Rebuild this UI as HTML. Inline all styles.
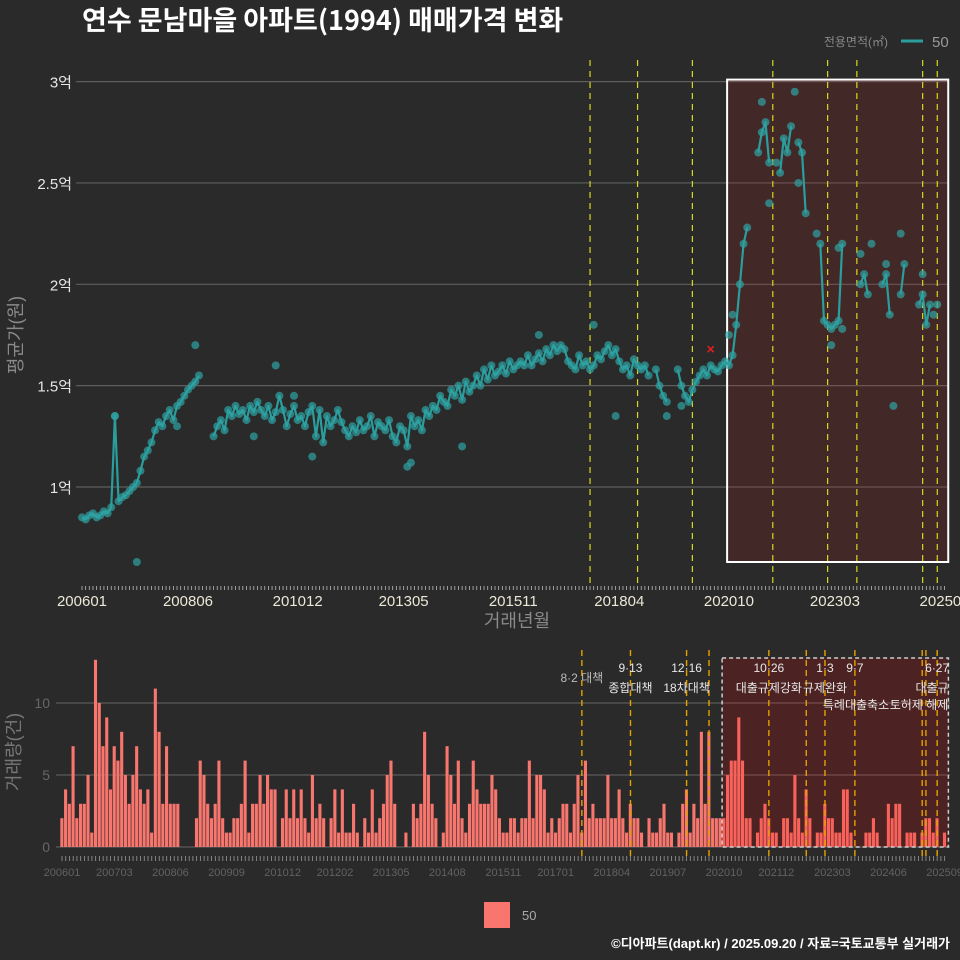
<!DOCTYPE html>
<html><head><meta charset="utf-8"><style>
html,body{margin:0;padding:0;background:#2a2a2a;}
svg{display:block;font-family:"Liberation Sans","Noto Sans CJK KR",sans-serif;}
</style></head><body>
<svg id="chart" width="960" height="960" viewBox="0 0 960 960" xmlns="http://www.w3.org/2000/svg">
<rect x="0" y="0" width="960" height="960" fill="#2a2a2a"/>
<text x="82" y="30" fill="#ffffff" font-size="27" font-weight="bold" font-family="'Noto Sans CJK KR',sans-serif">연수 문남마을 아파트(1994) 매매가격 변화</text>
<g>
<text x="888" y="46" fill="#888" font-size="12" text-anchor="end">전용면적(㎡)</text>
<line x1="901" y1="41" x2="923" y2="41" stroke="#2a9d9d" stroke-width="3"/>
<text x="932" y="47" fill="#999" font-size="15">50</text>
</g>
<g id="topg"></g>
<g id="botg"></g>
<g>
<rect x="484" y="902" width="26" height="26" fill="#f8766d"/>
<text x="522" y="920" fill="#aaa" font-size="13">50</text>
</g>
<text x="950" y="948" fill="#ffffff" font-size="13" font-weight="bold" text-anchor="end">©디아파트(dapt.kr) / 2025.09.20 / 자료=국토교통부 실거래가</text>
</svg>
<script>
const priceAvg = [
.85,.84,.86,.87,.85,.86,.88,.87,.90,1.35,.93,.95,
.96,.98,1.0,1.02,1.08,1.15,1.18,1.22,1.28,1.32,1.30,1.35,
1.38,1.33,1.40,1.42,1.45,1.48,1.50,1.52,1.55,null,null,null,
1.25,1.30,1.33,1.28,1.38,1.35,1.40,1.36,1.38,1.33,1.40,1.37,
1.42,1.38,1.35,1.40,1.33,1.37,1.45,1.38,1.30,1.36,1.40,1.33,
1.35,1.30,1.37,1.40,1.25,1.38,1.22,1.35,1.30,1.33,1.38,1.32,
1.28,1.25,1.30,1.27,1.33,1.28,1.30,1.35,1.25,1.32,1.30,1.28,
1.33,1.25,1.22,1.30,1.28,1.20,1.35,1.30,1.33,1.28,1.38,1.35,
1.40,1.38,1.45,1.42,1.40,1.48,1.45,1.50,1.43,1.52,1.47,1.50,
1.55,1.50,1.58,1.53,1.60,1.55,1.57,1.60,1.56,1.62,1.58,1.60,
1.62,1.60,1.65,1.60,1.63,1.66,1.62,1.68,1.65,1.70,1.67,1.70,
1.68,1.62,1.60,1.58,1.65,1.60,1.62,1.58,1.60,1.65,1.63,1.67,
1.70,1.65,1.68,1.62,1.58,1.60,1.55,1.63,1.60,1.58,1.60,1.55,
null,1.58,1.50,1.45,1.42,null,null,1.58,1.50,1.45,1.42,1.48,
1.52,1.55,1.58,1.55,1.60,1.58,1.57,1.60,1.62,1.60,1.65,1.80,
2.0,2.2,2.28,null,null,2.65,2.75,2.8,2.6,null,null,2.55,
2.72,2.65,2.78,null,2.7,2.65,2.35,null,null,null,2.2,1.82,
1.80,1.78,1.80,1.82,2.2,null,null,null,null,2.0,2.05,1.95,
null,null,null,2.0,2.05,1.85,null,null,1.95,2.1,null,null,
null,1.9,1.95,1.8,1.9,null,1.9,null,null];
const extraMonth = [9,15,31,26,53,58,63,47,89,90,104,125,140,146,160,164,177,178,186,188,190,195,196,201,205,207,208,213,216,220,222,224,230,233];
const extraPrice = [1.35,0.63,1.70,1.30,1.60,1.45,1.15,1.25,1.10,1.12,1.20,1.75,1.80,1.35,1.35,1.40,1.75,1.85,2.90,2.40,2.60,2.95,2.50,2.25,1.70,2.18,1.78,2.15,2.20,2.10,1.40,2.25,2.05,1.85];
const volume = [2,4,3,7,2,3,3,5,1,13,10,7,9,4,7,6,8,5,3,5,7,4,3,4,1,11,8,3,7,3,3,3,
0,0,0,0,
2,6,5,3,2,3,6,2,1,1,2,2,3,6,1,3,3,5,3,5,4,4,0,2,4,2,4,2,4,2,1,5,2,3,2,0,2,4,1,4,1,1,3,1,0,2,1,4,1,2,3,5,6,3,0,0,1,0,3,2,3,8,5,3,2,0,1,7,5,3,6,2,1,3,6,4,3,3,3,5,4,2,1,1,2,2,1,2,2,6,2,5,
5,4,1,2,1,2,3,3,1,3,5,1,6,2,3,2,2,2,5,2,2,4,2,1,3,2,2,1,0,2,1,1,2,3,1,1,0,1,3,4,1,3,2,8,3,8,2,2,2,2,5,6,6,9,6,2,2,0,1,2,3,2,1,1,0,2,2,1,5,2,1,4,2,0,1,1,3,2,2,1,1,4,4,1,
0,0,0,1,1,2,1,0,0,3,2,3,3,0,1,1,1,0,1,2,2,1,2,0,1];
const topTickLabels = ['200601','200806','201012','201305','201511','201804','202010','202303','202509'];
const bottomTickLabels = ['200601','200703','200806','200909','201012','201202','201305','201408','201511','201701','201804','201907','202010','202112','202303','202406','202509'];
const priceTicks = [1,1.5,2,2.5,3];
const priceTickLabels = ['1억','1.5억','2억','2.5억','3억'];
const volTicks = [0,5,10];
const topEvents = [139,152,167,189,204,212,230,234];
const bottomEvents = [139,152,167,173,189,199,204,212,230,231,234];
const eventMonth = [139,152,167,189,204,212,234];
const eventDate = ['8·2 대책','9·13','12·16','10·26','1·3','9·7','6·27'];
const eventName = ['','종합대책','18차대책','대출규제강화','규제완화','',''];
const highlightStart = 176.5, highlightEnd = 237;
const markerMonth = 172, markerPrice = 1.68;

const NS='http://www.w3.org/2000/svg';
function mk(tag, attrs, parent){const e=document.createElementNS(NS,tag);for(const k in attrs)e.setAttribute(k,attrs[k]);parent.appendChild(e);return e;}
function monthIdx(lbl){const y=+lbl.slice(0,4),m=+lbl.slice(4,6);return (y-2006)*12+m-1;}
const xT = i => 82 + i*3.655;
const yT = v => 487 - (v-1)*202.7;
const xB = i => 62 + i*3.74;
const yB = v => 847 - v*14.4;
const topG=document.getElementById('topg'), botG=document.getElementById('botg');

priceTicks.forEach((v,k)=>{
  let g=mk('line',{x1:76,x2:948,y1:yT(v),y2:yT(v),stroke:'#5e5e5e','stroke-width':1.2},topG);
  
  
  let t=mk('text',{x:72,y:yT(v)+6,fill:'#e6e6e6','font-size':15,'text-anchor':'end'},topG);
  t.textContent=priceTickLabels[k];
  
  
});
let hb=mk('rect',{x:xT(highlightStart),y:yT(3)-2,width:xT(highlightEnd)-xT(highlightStart),height:562-yT(3)+2,fill:'rgba(200,30,30,0.16)',stroke:'#ffffff','stroke-width':2},topG);


topEvents.forEach(m=>{
  let l=mk('line',{x1:xT(m),x2:xT(m),y1:60,y2:585,stroke:'#d8d81e','stroke-width':1.2,'stroke-dasharray':'6,5'},topG);
  
  
});
let seg=[];
function flush(){ if(seg.length>1){let p=mk('polyline',{points:seg.join(' '),fill:'none',stroke:'#2a9d9d','stroke-width':2.2,'stroke-linejoin':'round'},topG);
  
  } seg=[]; }
priceAvg.forEach((v,i)=>{ if(v==null){flush();} else seg.push(xT(i)+','+yT(v)); });
flush();
priceAvg.forEach((v,i)=>{ if(v==null) return;
  let c=mk('circle',{cx:xT(i),cy:yT(v),r:4,fill:'#2fa3a3','fill-opacity':0.7},topG);
  
  
});
extraMonth.forEach((m,k)=>{
  let c=mk('circle',{cx:xT(m),cy:yT(extraPrice[k]),r:4,fill:'#2fa3a3','fill-opacity':0.7},topG);
  
  
});
let mx=xT(markerMonth), my=yT(markerPrice);
let xm=mk('path',{d:`M${mx-3},${my-3}L${mx+3},${my+3}M${mx+3},${my-3}L${mx-3},${my+3}`,stroke:'#e02020','stroke-width':1.6},topG);


for(let i=0;i<=236;i++){
  let t=mk('line',{x1:xT(i),x2:xT(i),y1:586,y2:590,stroke:'#bbb','stroke-width':0.8},topG);
  
  
}
topTickLabels.forEach(l=>{
  let t=mk('text',{x:xT(monthIdx(l)),y:606,fill:'#ece8d6','font-size':15,'text-anchor':'middle'},topG);
  t.textContent=l;
  
  
});
let xt=mk('text',{x:517,y:627,fill:'#8a8a8a','font-size':18,'text-anchor':'middle'},topG);
xt.textContent='거래년월';


let yt=mk('text',{x:0,y:0,fill:'#8a8a8a','font-size':18,'text-anchor':'middle',transform:'translate(22,335) rotate(-90)'},topG);
yt.textContent='평균가(원)';



volTicks.forEach(v=>{
  let g=mk('line',{x1:56,x2:950,y1:yB(v),y2:yB(v),stroke:'#5a5a5a','stroke-width':1.2},botG);
  
  
  let t=mk('text',{x:50,y:yB(v)+5,fill:'#666','font-size':14,'text-anchor':'end'},botG);
  t.textContent=String(v);
  
  
});
volume.forEach((v,i)=>{ if(!v) return;
  let b=mk('rect',{x:xB(i)-1.7,y:yB(v),width:3.1,height:yB(0)-yB(v),fill:'#f8766d'},botG);
  
  
});
let hb2=mk('rect',{x:xB(highlightStart),y:658,width:xB(highlightEnd)-xB(highlightStart),height:yB(0)-658,fill:'rgba(255,0,0,0.17)',stroke:'#cccccc','stroke-width':1.5,'stroke-dasharray':'4,3'},botG);


bottomEvents.forEach(m=>{
  let l=mk('line',{x1:xB(m),x2:xB(m),y1:650,y2:858,stroke:'#e6a000','stroke-width':1.4,'stroke-dasharray':'6,4'},botG);
  
  
});
eventMonth.forEach((m,k)=>{
  let y1 = k===0 ? 682 : 672;
  let t=mk('text',{x:xB(m),y:y1,fill:k===0?'#bbbbbb':'#e8e8e8','font-size':12,'text-anchor':'middle'},botG);
  t.textContent=eventDate[k];
  
  
  if(eventName[k]){
    let n=mk('text',{x:xB(m),y:692,fill:'#e8e8e8','font-size':12,'text-anchor':'middle'},botG);
    n.textContent=eventName[k];
    
    
  }
});
[['특례대출축소',856,709],['토허제 해제',919,709],['대출규',932,692]].forEach(a=>{
  let n=mk('text',{x:a[1],y:a[2],fill:'#e8e8e8','font-size':12,'text-anchor':'middle'},botG);
  n.textContent=a[0];
  
  
});
for(let i=0;i<=236;i++){
  let t=mk('line',{x1:xB(i),x2:xB(i),y1:856,y2:861,stroke:'#999','stroke-width':0.8},botG);
  
  
}
bottomTickLabels.forEach(l=>{
  let t=mk('text',{x:xB(monthIdx(l)),y:876,fill:'#626262','font-size':11,'text-anchor':'middle'},botG);
  t.textContent=l;
  
  
});
let yt2=mk('text',{x:0,y:0,fill:'#777','font-size':18,'text-anchor':'middle',transform:'translate(20,752) rotate(-90)'},botG);
yt2.textContent='거래량(건)';


</script>
</body></html>
